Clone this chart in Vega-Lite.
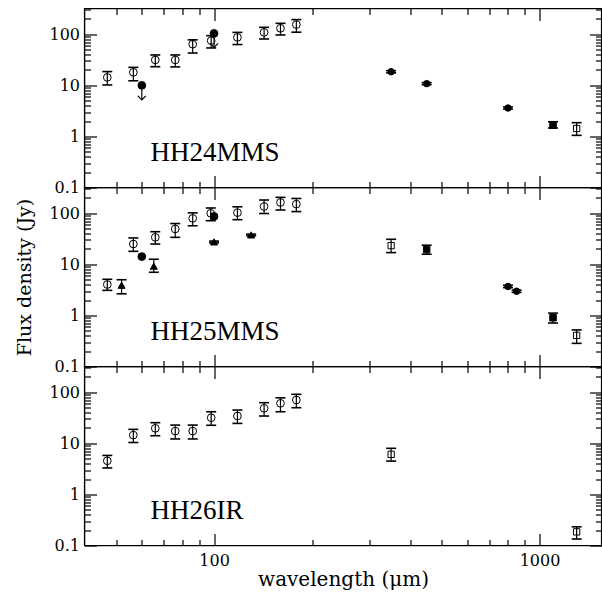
{
"$schema": "https://vega.github.io/schema/vega-lite/v6.json",
"padding": {"left": 14.5, "top": 6.5, "right": 0, "bottom": 2},
"spacing": 0,
"bounds": "flush",
"config": {
  "view": {"stroke": "black", "strokeWidth": 1.4},
  "axis": {"domain": false, "grid": false, "tickColor": "black", "tickWidth": 1.2, "labelFont": "DejaVu Serif", "labelFontSize": 16, "labelColor": "black", "titleFont": "DejaVu Serif", "titleFontSize": 19, "titleFontWeight": "normal", "titleColor": "black", "labelOverlap": false, "labelFlush": false, "labelBound": false, "format": "~g"},
  "title": {"orient": "top", "anchor": "start", "frame": "group", "offset": -159, "dx": 66, "baseline": "alphabetic", "font": "Liberation Serif", "fontSize": 27, "fontWeight": "normal", "color": "black"}
},
"datasets": {
  "pts": [
    {"panel": "HH24MMS", "sym": "oc", "lam": 47, "f": 14.3, "lo": 10.2, "hi": 18.6},
    {"panel": "HH24MMS", "sym": "oc", "lam": 56.5, "f": 18, "lo": 12.3, "hi": 22.5},
    {"panel": "HH24MMS", "sym": "fc", "lam": 60, "f": 10, "lim": 5.2},
    {"panel": "HH24MMS", "sym": "oc", "lam": 66, "f": 31.5, "lo": 23.2, "hi": 39.4},
    {"panel": "HH24MMS", "sym": "oc", "lam": 76, "f": 31.5, "lo": 23, "hi": 39.4},
    {"panel": "HH24MMS", "sym": "oc", "lam": 86, "f": 64, "lo": 43, "hi": 78},
    {"panel": "HH24MMS", "sym": "oc", "lam": 98, "f": 75, "lo": 54, "hi": 94},
    {"panel": "HH24MMS", "sym": "fc", "lam": 100, "f": 104, "lim": 55.6},
    {"panel": "HH24MMS", "sym": "oc", "lam": 118, "f": 87, "lo": 63, "hi": 109},
    {"panel": "HH24MMS", "sym": "oc", "lam": 142.5, "f": 109, "lo": 81, "hi": 137},
    {"panel": "HH24MMS", "sym": "oc", "lam": 160, "f": 131, "lo": 97, "hi": 164},
    {"panel": "HH24MMS", "sym": "oc", "lam": 179, "f": 155, "lo": 110, "hi": 194},
    {"panel": "HH24MMS", "sym": "fb", "lam": 350, "f": 18.5, "lo": 17.6, "hi": 19.4},
    {"panel": "HH24MMS", "sym": "fb", "lam": 450, "f": 10.8, "lo": 10.3, "hi": 11.3},
    {"panel": "HH24MMS", "sym": "fb", "lam": 800, "f": 3.6, "lo": 3.43, "hi": 3.78},
    {"panel": "HH24MMS", "sym": "fs", "lam": 1100, "f": 1.67, "lo": 1.46, "hi": 1.94},
    {"panel": "HH24MMS", "sym": "os", "lam": 1300, "f": 1.43, "lo": 1.05, "hi": 1.86},
    {"panel": "HH25MMS", "sym": "oc", "lam": 47, "f": 4.03, "lo": 3.1, "hi": 5.1},
    {"panel": "HH25MMS", "sym": "tri", "lam": 52, "f": 3.9, "lo": 2.65, "hi": 5.0},
    {"panel": "HH25MMS", "sym": "oc", "lam": 56.5, "f": 25, "lo": 18, "hi": 32.9},
    {"panel": "HH25MMS", "sym": "fc", "lam": 60, "f": 14.2},
    {"panel": "HH25MMS", "sym": "oc", "lam": 66, "f": 33.8, "lo": 25, "hi": 43.6},
    {"panel": "HH25MMS", "sym": "tri", "lam": 65.3, "f": 9.2, "lo": 7.0, "hi": 12.6},
    {"panel": "HH25MMS", "sym": "oc", "lam": 76, "f": 49.4, "lo": 33.8, "hi": 63},
    {"panel": "HH25MMS", "sym": "oc", "lam": 86, "f": 79.5, "lo": 57, "hi": 102},
    {"panel": "HH25MMS", "sym": "oc", "lam": 97.7, "f": 100, "lo": 71.6, "hi": 127},
    {"panel": "HH25MMS", "sym": "fc", "lam": 100, "f": 87},
    {"panel": "HH25MMS", "sym": "tri", "lam": 100, "f": 27.5, "lo": 26.4, "hi": 28.6},
    {"panel": "HH25MMS", "sym": "oc", "lam": 118, "f": 103, "lo": 75, "hi": 134},
    {"panel": "HH25MMS", "sym": "tri", "lam": 130, "f": 37.7, "lo": 36.2, "hi": 39.2},
    {"panel": "HH25MMS", "sym": "oc", "lam": 142.5, "f": 136, "lo": 99, "hi": 182},
    {"panel": "HH25MMS", "sym": "oc", "lam": 160, "f": 163, "lo": 116, "hi": 205},
    {"panel": "HH25MMS", "sym": "oc", "lam": 179, "f": 151, "lo": 108, "hi": 195},
    {"panel": "HH25MMS", "sym": "os", "lam": 350, "f": 23.3, "lo": 17, "hi": 31},
    {"panel": "HH25MMS", "sym": "fs", "lam": 450, "f": 19.5, "lo": 15.8, "hi": 23.7},
    {"panel": "HH25MMS", "sym": "fb", "lam": 800, "f": 3.69, "lo": 3.5, "hi": 3.9},
    {"panel": "HH25MMS", "sym": "fb", "lam": 850, "f": 2.98, "lo": 2.83, "hi": 3.13},
    {"panel": "HH25MMS", "sym": "fs", "lam": 1100, "f": 0.9, "lo": 0.71, "hi": 1.11},
    {"panel": "HH25MMS", "sym": "os", "lam": 1300, "f": 0.407, "lo": 0.284, "hi": 0.52},
    {"panel": "HH26IR", "sym": "oc", "lam": 47, "f": 4.56, "lo": 3.3, "hi": 5.8},
    {"panel": "HH26IR", "sym": "oc", "lam": 56.5, "f": 14.5, "lo": 10.4, "hi": 18.8},
    {"panel": "HH26IR", "sym": "oc", "lam": 66, "f": 19.7, "lo": 14.1, "hi": 25.4},
    {"panel": "HH26IR", "sym": "oc", "lam": 76, "f": 17.4, "lo": 12.2, "hi": 22.8},
    {"panel": "HH26IR", "sym": "oc", "lam": 86, "f": 17.4, "lo": 12.2, "hi": 22.8},
    {"panel": "HH26IR", "sym": "oc", "lam": 98, "f": 31.8, "lo": 22.6, "hi": 41.6},
    {"panel": "HH26IR", "sym": "oc", "lam": 118, "f": 34.3, "lo": 24.6, "hi": 44.9},
    {"panel": "HH26IR", "sym": "oc", "lam": 142.5, "f": 48.5, "lo": 34.3, "hi": 62.6},
    {"panel": "HH26IR", "sym": "oc", "lam": 160, "f": 60.8, "lo": 41.6, "hi": 78},
    {"panel": "HH26IR", "sym": "oc", "lam": 179, "f": 70.6, "lo": 49.9, "hi": 91.3},
    {"panel": "HH26IR", "sym": "os", "lam": 350, "f": 6.09, "lo": 4.5, "hi": 8.0},
    {"panel": "HH26IR", "sym": "os", "lam": 1300, "f": 0.185, "lo": 0.134, "hi": 0.232}
  ]
},
"data": {"name": "pts"},
"vconcat": [
  {
    "width": 517, "height": 179,
    "title": "HH24MMS",
    "transform": [{"filter": "datum.panel == 'HH24MMS'"}],
    "encoding": {
      "x": {"field": "lam", "type": "quantitative", "scale": {"type": "log", "domain": [40, 1550], "nice": false}, "axis": null},
      "y": {"field": "f", "type": "quantitative", "scale": {"type": "log", "domain": [0.1, 320], "nice": false}, "axis": null}
    },
    "resolve": {"axis": {"x": "independent", "y": "independent"}},
    "layer": [
      {"transform": [{"filter": "isValid(datum.lo)"}], "mark": {"type": "rule", "color": "black", "strokeWidth": 1.2, "opacity": 1},
       "encoding": {
         "x": {"field": "lam", "type": "quantitative", "scale": {"type": "log", "domain": [40, 1550], "nice": false},
               "axis": {"orient": "bottom", "values": [100, 1000], "labels": false, "title": null, "tickSize": -12}},
         "y": {"field": "lo", "type": "quantitative", "scale": {"type": "log", "domain": [0.1, 320], "nice": false},
               "axis": {"orient": "left", "values": [0.1, 1, 10, 100], "labelPadding": 17, "title": null, "tickSize": -12}},
         "y2": {"field": "hi"}
       }},
      {"transform": [{"filter": "isValid(datum.lo)"}], "mark": {"type": "tick", "orient": "horizontal", "size": 10, "thickness": 1.6, "color": "black", "opacity": 1},
       "encoding": {
         "x": {"field": "lam", "type": "quantitative", "scale": {"type": "log", "domain": [40, 1550], "nice": false},
               "axis": {"orient": "top", "values": [100, 1000], "labels": false, "title": null, "tickSize": -12}},
         "y": {"field": "lo", "type": "quantitative", "scale": {"type": "log", "domain": [0.1, 320], "nice": false},
               "axis": {"orient": "right", "values": [0.1, 1, 10, 100], "labels": false, "title": null, "tickSize": -12}}
       }},
      {"transform": [{"filter": "isValid(datum.hi)"}], "mark": {"type": "tick", "orient": "horizontal", "size": 10, "thickness": 1.6, "color": "black", "opacity": 1},
       "encoding": {
         "x": {"field": "lam", "type": "quantitative", "scale": {"type": "log", "domain": [40, 1550], "nice": false},
               "axis": {"orient": "bottom", "values": [50,60,70,80,90,200,300,400,500,600,700,800,900], "labels": false, "title": null, "tickSize": -6}},
         "y": {"field": "hi", "type": "quantitative", "scale": {"type": "log", "domain": [0.1, 320], "nice": false},
               "axis": {"orient": "left", "values": [0.2,0.3,0.4,0.5,0.6,0.7,0.8,0.9,2,3,4,5,6,7,8,9,20,30,40,50,60,70,80,90,200,300], "labels": false, "title": null, "tickSize": -6}}
       }},
      {"transform": [{"filter": "isValid(datum.lim)"}], "mark": {"type": "rule", "color": "black", "strokeWidth": 1.2, "opacity": 1},
       "encoding": {"y2": {"field": "lim"}}},
      {"transform": [{"filter": "isValid(datum.lim)"}], "mark": {"type": "point", "shape": "M-1,-1L0,0L1,-1", "size": 64, "filled": false, "color": "black", "strokeWidth": 1.2, "opacity": 1},
       "encoding": {"y": {"field": "lim", "type": "quantitative", "scale": {"type": "log", "domain": [0.1, 320], "nice": false}, "axis": null}}},
      {"transform": [{"filter": "datum.sym == 'oc'"}], "mark": {"type": "point", "shape": "circle", "size": 60, "filled": false, "color": "black", "strokeWidth": 1, "opacity": 1},
       "encoding": {
         "x": {"field": "lam", "type": "quantitative", "scale": {"type": "log", "domain": [40, 1550], "nice": false},
               "axis": {"orient": "top", "values": [50,60,70,80,90,200,300,400,500,600,700,800,900], "labels": false, "title": null, "tickSize": -6}},
         "y": {"field": "f", "type": "quantitative", "scale": {"type": "log", "domain": [0.1, 320], "nice": false},
               "axis": {"orient": "right", "values": [0.2,0.3,0.4,0.5,0.6,0.7,0.8,0.9,2,3,4,5,6,7,8,9,20,30,40,50,60,70,80,90,200,300], "labels": false, "title": null, "tickSize": -6}}
       }},
      {"transform": [{"filter": "datum.sym == 'fc'"}], "mark": {"type": "point", "shape": "circle", "size": 60, "filled": true, "color": "black", "stroke": "black", "strokeWidth": 1, "opacity": 1}},
      {"transform": [{"filter": "datum.sym == 'fb'"}], "mark": {"type": "point", "shape": "circle", "size": 42, "filled": true, "color": "black", "stroke": "black", "strokeWidth": 1, "opacity": 1}},
      {"transform": [{"filter": "datum.sym == 'fs'"}], "mark": {"type": "point", "shape": "square", "size": 42, "filled": true, "color": "black", "stroke": "black", "strokeWidth": 1, "opacity": 1}},
      {"transform": [{"filter": "datum.sym == 'os'"}], "mark": {"type": "point", "shape": "square", "size": 40, "filled": false, "color": "black", "strokeWidth": 1, "opacity": 1}}
    ]
  },
  {
    "width": 517, "height": 179,
    "title": "HH25MMS",
    "transform": [{"filter": "datum.panel == 'HH25MMS'"}],
    "encoding": {
      "x": {"field": "lam", "type": "quantitative", "scale": {"type": "log", "domain": [40, 1550], "nice": false}, "axis": null},
      "y": {"field": "f", "type": "quantitative", "scale": {"type": "log", "domain": [0.1, 320], "nice": false}, "axis": null}
    },
    "resolve": {"axis": {"x": "independent", "y": "independent"}},
    "layer": [
      {"transform": [{"filter": "isValid(datum.lo)"}], "mark": {"type": "rule", "color": "black", "strokeWidth": 1.2, "opacity": 1},
       "encoding": {
         "x": {"field": "lam", "type": "quantitative", "scale": {"type": "log", "domain": [40, 1550], "nice": false},
               "axis": {"orient": "bottom", "values": [100, 1000], "labels": false, "title": null, "tickSize": -12}},
         "y": {"field": "lo", "type": "quantitative", "scale": {"type": "log", "domain": [0.1, 320], "nice": false},
               "axis": {"orient": "left", "values": [0.1, 1, 10, 100], "labelPadding": 17, "title": "Flux density (Jy)", "titlePadding": 14, "tickSize": -12}},
         "y2": {"field": "hi"}
       }},
      {"transform": [{"filter": "isValid(datum.lo)"}], "mark": {"type": "tick", "orient": "horizontal", "size": 10, "thickness": 1.6, "color": "black", "opacity": 1},
       "encoding": {
         "x": {"field": "lam", "type": "quantitative", "scale": {"type": "log", "domain": [40, 1550], "nice": false},
               "axis": {"orient": "top", "values": [100, 1000], "labels": false, "title": null, "tickSize": -12}},
         "y": {"field": "lo", "type": "quantitative", "scale": {"type": "log", "domain": [0.1, 320], "nice": false},
               "axis": {"orient": "right", "values": [0.1, 1, 10, 100], "labels": false, "title": null, "tickSize": -12}}
       }},
      {"transform": [{"filter": "isValid(datum.hi)"}], "mark": {"type": "tick", "orient": "horizontal", "size": 10, "thickness": 1.6, "color": "black", "opacity": 1},
       "encoding": {
         "x": {"field": "lam", "type": "quantitative", "scale": {"type": "log", "domain": [40, 1550], "nice": false},
               "axis": {"orient": "bottom", "values": [50,60,70,80,90,200,300,400,500,600,700,800,900], "labels": false, "title": null, "tickSize": -6}},
         "y": {"field": "hi", "type": "quantitative", "scale": {"type": "log", "domain": [0.1, 320], "nice": false},
               "axis": {"orient": "left", "values": [0.2,0.3,0.4,0.5,0.6,0.7,0.8,0.9,2,3,4,5,6,7,8,9,20,30,40,50,60,70,80,90,200,300], "labels": false, "title": null, "tickSize": -6}}
       }},
      {"transform": [{"filter": "datum.sym == 'oc'"}], "mark": {"type": "point", "shape": "circle", "size": 60, "filled": false, "color": "black", "strokeWidth": 1, "opacity": 1},
       "encoding": {
         "x": {"field": "lam", "type": "quantitative", "scale": {"type": "log", "domain": [40, 1550], "nice": false},
               "axis": {"orient": "top", "values": [50,60,70,80,90,200,300,400,500,600,700,800,900], "labels": false, "title": null, "tickSize": -6}},
         "y": {"field": "f", "type": "quantitative", "scale": {"type": "log", "domain": [0.1, 320], "nice": false},
               "axis": {"orient": "right", "values": [0.2,0.3,0.4,0.5,0.6,0.7,0.8,0.9,2,3,4,5,6,7,8,9,20,30,40,50,60,70,80,90,200,300], "labels": false, "title": null, "tickSize": -6}}
       }},
      {"transform": [{"filter": "datum.sym == 'fc'"}], "mark": {"type": "point", "shape": "circle", "size": 60, "filled": true, "color": "black", "stroke": "black", "strokeWidth": 1, "opacity": 1}},
      {"transform": [{"filter": "datum.sym == 'tri'"}], "mark": {"type": "point", "shape": "triangle-up", "size": 50, "filled": true, "color": "black", "stroke": "black", "strokeWidth": 1, "opacity": 1}},
      {"transform": [{"filter": "datum.sym == 'fb'"}], "mark": {"type": "point", "shape": "circle", "size": 42, "filled": true, "color": "black", "stroke": "black", "strokeWidth": 1, "opacity": 1}},
      {"transform": [{"filter": "datum.sym == 'fs'"}], "mark": {"type": "point", "shape": "square", "size": 42, "filled": true, "color": "black", "stroke": "black", "strokeWidth": 1, "opacity": 1}},
      {"transform": [{"filter": "datum.sym == 'os'"}], "mark": {"type": "point", "shape": "square", "size": 40, "filled": false, "color": "black", "strokeWidth": 1, "opacity": 1}}
    ]
  },
  {
    "width": 517, "height": 179,
    "title": "HH26IR",
    "transform": [{"filter": "datum.panel == 'HH26IR'"}],
    "encoding": {
      "x": {"field": "lam", "type": "quantitative", "scale": {"type": "log", "domain": [40, 1550], "nice": false}, "axis": null},
      "y": {"field": "f", "type": "quantitative", "scale": {"type": "log", "domain": [0.1, 320], "nice": false}, "axis": null}
    },
    "resolve": {"axis": {"x": "independent", "y": "independent"}},
    "layer": [
      {"transform": [{"filter": "isValid(datum.lo)"}], "mark": {"type": "rule", "color": "black", "strokeWidth": 1.2, "opacity": 1},
       "encoding": {
         "x": {"field": "lam", "type": "quantitative", "scale": {"type": "log", "domain": [40, 1550], "nice": false},
               "axis": {"orient": "bottom", "values": [100, 1000], "labelPadding": 19, "title": "wavelength (μm)", "titleFontSize": 20, "titlePadding": 1, "tickSize": -12}},
         "y": {"field": "lo", "type": "quantitative", "scale": {"type": "log", "domain": [0.1, 320], "nice": false},
               "axis": {"orient": "left", "values": [0.1, 1, 10, 100], "labelPadding": 17, "title": null, "tickSize": -12}},
         "y2": {"field": "hi"}
       }},
      {"transform": [{"filter": "isValid(datum.lo)"}], "mark": {"type": "tick", "orient": "horizontal", "size": 10, "thickness": 1.6, "color": "black", "opacity": 1},
       "encoding": {
         "x": {"field": "lam", "type": "quantitative", "scale": {"type": "log", "domain": [40, 1550], "nice": false},
               "axis": {"orient": "top", "values": [100, 1000], "labels": false, "title": null, "tickSize": -12}},
         "y": {"field": "lo", "type": "quantitative", "scale": {"type": "log", "domain": [0.1, 320], "nice": false},
               "axis": {"orient": "right", "values": [0.1, 1, 10, 100], "labels": false, "title": null, "tickSize": -12}}
       }},
      {"transform": [{"filter": "isValid(datum.hi)"}], "mark": {"type": "tick", "orient": "horizontal", "size": 10, "thickness": 1.6, "color": "black", "opacity": 1},
       "encoding": {
         "x": {"field": "lam", "type": "quantitative", "scale": {"type": "log", "domain": [40, 1550], "nice": false},
               "axis": {"orient": "bottom", "values": [50,60,70,80,90,200,300,400,500,600,700,800,900], "labels": false, "title": null, "tickSize": -6}},
         "y": {"field": "hi", "type": "quantitative", "scale": {"type": "log", "domain": [0.1, 320], "nice": false},
               "axis": {"orient": "left", "values": [0.2,0.3,0.4,0.5,0.6,0.7,0.8,0.9,2,3,4,5,6,7,8,9,20,30,40,50,60,70,80,90,200,300], "labels": false, "title": null, "tickSize": -6}}
       }},
      {"transform": [{"filter": "datum.sym == 'oc'"}], "mark": {"type": "point", "shape": "circle", "size": 60, "filled": false, "color": "black", "strokeWidth": 1, "opacity": 1},
       "encoding": {
         "x": {"field": "lam", "type": "quantitative", "scale": {"type": "log", "domain": [40, 1550], "nice": false},
               "axis": {"orient": "top", "values": [50,60,70,80,90,200,300,400,500,600,700,800,900], "labels": false, "title": null, "tickSize": -6}},
         "y": {"field": "f", "type": "quantitative", "scale": {"type": "log", "domain": [0.1, 320], "nice": false},
               "axis": {"orient": "right", "values": [0.2,0.3,0.4,0.5,0.6,0.7,0.8,0.9,2,3,4,5,6,7,8,9,20,30,40,50,60,70,80,90,200,300], "labels": false, "title": null, "tickSize": -6}}
       }},
      {"transform": [{"filter": "datum.sym == 'os'"}], "mark": {"type": "point", "shape": "square", "size": 40, "filled": false, "color": "black", "strokeWidth": 1, "opacity": 1}}
    ]
  }
]
}
